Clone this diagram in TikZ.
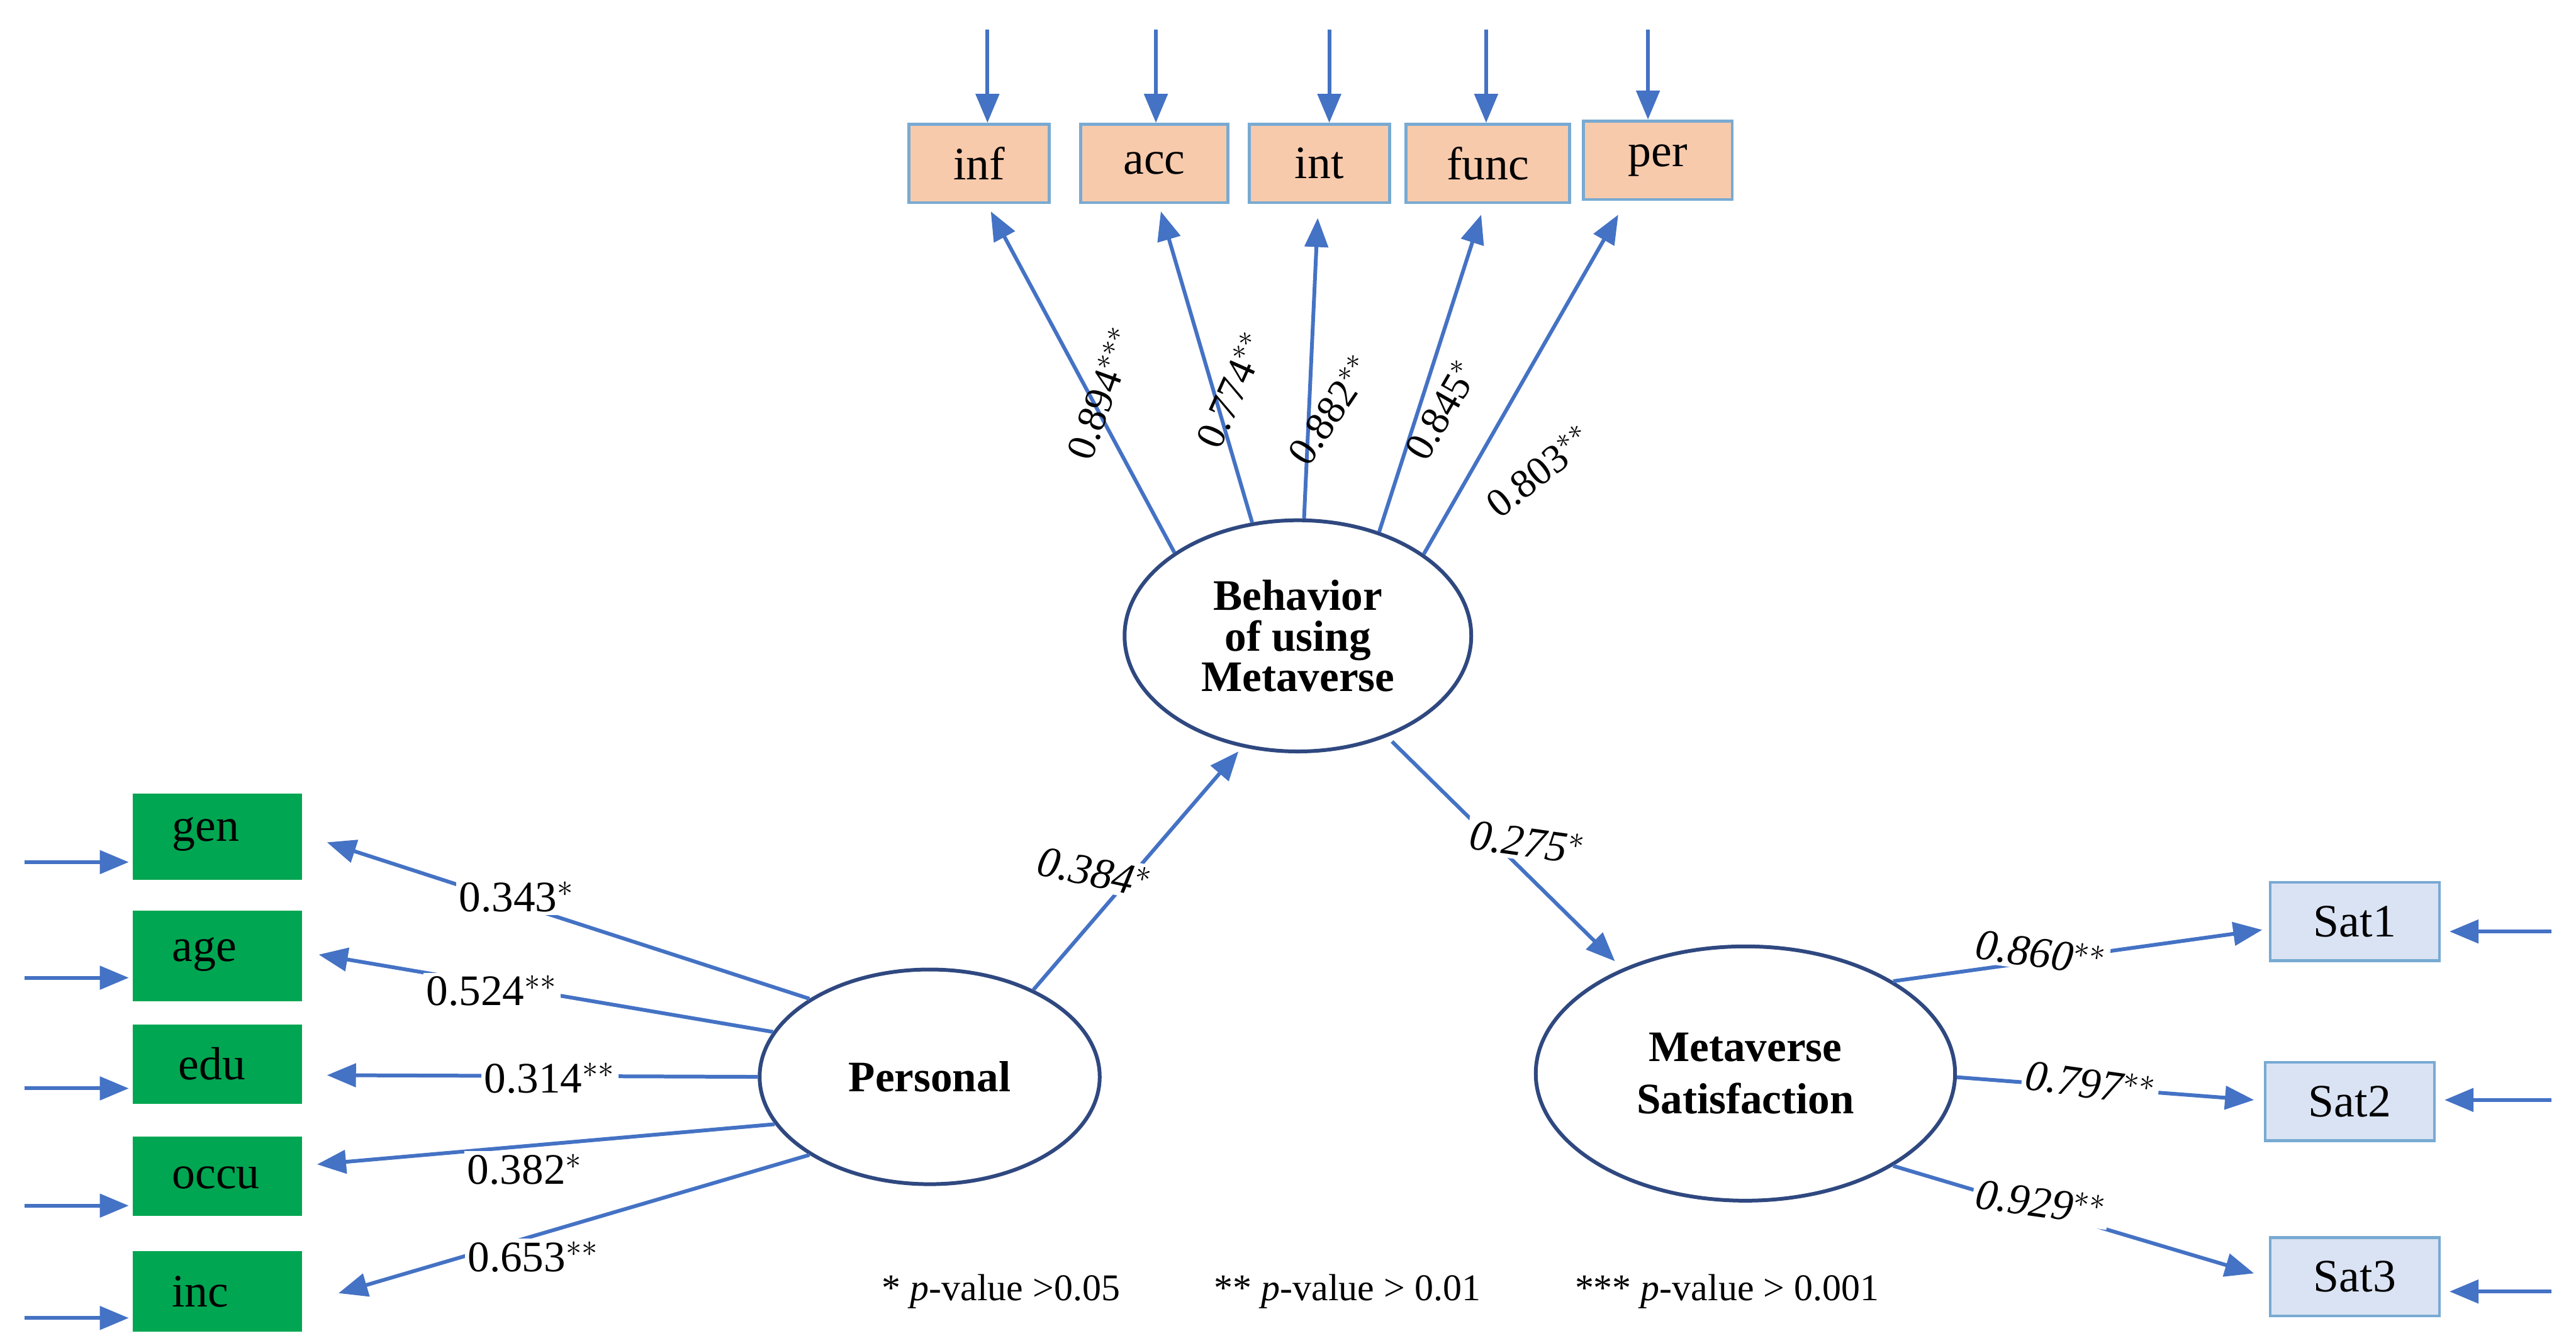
\documentclass[tikz,border=0pt]{standalone}
\usepackage{fontspec}
\setmainfont{Liberation Serif}
\usetikzlibrary{arrows.meta,shapes.geometric}
\definecolor{ablue}{RGB}{68,114,196}
\definecolor{eblue}{RGB}{47,72,128}
\definecolor{peach}{RGB}{247,202,172}
\definecolor{pbord}{RGB}{120,170,210}
\definecolor{gbox}{RGB}{0,166,81}
\definecolor{lblue}{RGB}{218,227,243}
\begin{document}
\begin{tikzpicture}[x=0.02cm,y=-0.02cm,
 arr/.style={draw=ablue,line width=1.3pt,-{Triangle[length=10pt,width=8pt]}},
 top/.style={draw=pbord,fill=peach,line width=1pt,minimum height=0.95cm,font=\fontsize{16}{16}\selectfont},
 grn/.style={fill=gbox,minimum width=2.05cm,font=\fontsize{16}{16}\selectfont},
 sat/.style={draw=pbord,fill=lblue,line width=1pt,minimum width=2.05cm,minimum height=0.95cm,font=\fontsize{16}{16}\selectfont},
 lat/.style={ellipse,draw=eblue,line width=1.3pt,fill=white,align=center,font=\fontsize{15}{15}\bfseries},
 lab/.style={fill=white,inner sep=1pt,font=\fontsize{15}{15}\selectfont},
 tl/.style={inner sep=0pt,font=\fontsize{14}{14}\selectfont}]
\useasboundingbox (0,0) rectangle (1560,813);
% top boxes
\node[top,minimum width=1.7cm] (inf) at (593,99) {inf};
\node[top,minimum width=1.78cm] (acc) at (699,99) {acc};
\node[top,minimum width=1.7cm] (int) at (799,99) {int};
\node[top,minimum width=1.98cm] (func) at (901,99) {func};
\node[top,minimum width=1.8cm] (per) at (1004,97) {per};
\foreach \n/\x in {inf/598,acc/700,int/805,func/900,per/998}{
  \coordinate (t\n) at (\x,18);
  \draw[arr] (t\n) -- (\n.north -| t\n);}
% latent
\node[lat,minimum width=4.2cm,minimum height=2.8cm] (B) at (786,385) {Behavior\\[-1pt]of using\\[-1pt]Metaverse};
\node[lat,minimum width=4.12cm,minimum height=2.6cm] (P) at (563,652) {Personal};
\node[lat,minimum width=5.08cm,minimum height=3.08cm] (S) at (1057,650) {Metaverse\\[3pt]Satisfaction};
% top loadings
\coordinate (einf) at (600,128);
\coordinate (eacc) at (703,128);
\coordinate (eint) at (798,132);
\coordinate (efunc) at (897,130);
\coordinate (eper) at (980,130);
\draw[arr] (B.146) -- (einf);
\draw[arr] (B.112) -- (eacc);
\draw[arr] (B.87) -- (eint);
\draw[arr] (B.52) -- (efunc);
\draw[arr] (B.33) -- (eper);
\node[tl,rotate=70] (l1) at (667,238) {0.894$^{***}$};
\node[tl,rotate=66] (l2) at (746,236) {0.774$^{**}$};
\node[tl,rotate=56] (l3) at (806,248) {0.882$^{**}$};
\node[tl,rotate=60] (l4) at (873,248) {0.845$^{*}$};
\node[tl,rotate=38] (l5) at (932,285) {0.803$^{**}$};
% structural
\coordinate (pb) at (750,455);
\draw[arr] (P.40) -- (pb);
\node[lab,rotate=-12] at (663,528) {\itshape 0.384$^{*}$};
\coordinate (bs) at (843,449);
\coordinate (sb) at (978,582);
\draw[arr] (bs) -- (sb);
\node[lab,rotate=-8] at (925,510) {\itshape 0.275$^{*}$};
% left boxes
\node[grn,anchor=north west,minimum height=1.05cm] (gen) at (80,480) {};
\node[anchor=west,font=\fontsize{16}{16}\selectfont] at (98,505) {gen};
\node[grn,anchor=north west,minimum height=1.1cm] (age) at (80,551) {};
\node[anchor=west,font=\fontsize{16}{16}\selectfont] at (98,578) {age};
\node[grn,anchor=north west,minimum height=0.96cm] (edu) at (80,620) {};
\node[anchor=west,font=\fontsize{16}{16}\selectfont] at (102,644) {edu};
\node[grn,anchor=north west,minimum height=0.96cm] (occu) at (80,688) {};
\node[anchor=west,font=\fontsize{16}{16}\selectfont] at (98,713) {occu};
\node[grn,anchor=north west,minimum height=0.98cm] (inc) at (80,757) {};
\node[anchor=west,font=\fontsize{16}{16}\selectfont] at (98,782) {inc};
\foreach \n/\y in {gen/522,age/592,edu/659,occu/730,inc/798}{
  \coordinate (i\n) at (15,\y);
  \draw[arr] (i\n) -- (78,\y);}
\coordinate (egen) at (198,510);
\coordinate (eage) at (193,578);
\coordinate (eedu) at (198,651);
\coordinate (eoccu) at (192,705);
\coordinate (einc) at (205,783);
\draw[arr] (P.147) -- (egen);
\draw[arr] (P.164) -- (eage);
\draw[arr] (P.180) -- (eedu);
\draw[arr] (P.197) -- (eoccu);
\draw[arr] (P.213) -- (einc);
\node[lab] at (313,543) {0.343$^{*}$};
\node[lab] at (298,600) {0.524$^{**}$};
\node[lab] at (333,653) {0.314$^{**}$};
\node[lab] at (318,708) {0.382$^{*}$};
\node[lab] at (323,761) {0.653$^{**}$};
% right boxes
\node[sat] (s1) at (1426,558) {Sat1};
\node[sat] (s2) at (1423,667) {Sat2};
\node[sat] (s3) at (1426,773) {Sat3};
\foreach \n/\y in {s1/564,s2/666,s3/782}{
  \coordinate (r\n) at (1545,\y);
  \draw[arr] (r\n) -- ([xshift=3pt]\n.east |- 0,\y);}
\coordinate (es1) at (1370,563);
\coordinate (es2) at (1365,666);
\coordinate (es3) at (1365,771);
\draw[arr] (S.32) -- (es1);
\draw[arr] (S.-1) -- (es2);
\draw[arr] (S.-32) -- (es3);
\node[lab,rotate=-8] at (1236,577) {\itshape 0.860$^{**}$};
\node[lab,rotate=-8] at (1266,656) {\itshape 0.797$^{**}$};
\node[lab,rotate=-8] at (1236,728) {\itshape 0.929$^{**}$};
% footnote
\node[font=\fontsize{13}{13}\selectfont] (fn) at (836,782) {* \textit{p}-value >0.05\qquad\ \ ** \textit{p}-value > 0.01\qquad\ \ *** \textit{p}-value > 0.001};
\end{tikzpicture}
\end{document}
